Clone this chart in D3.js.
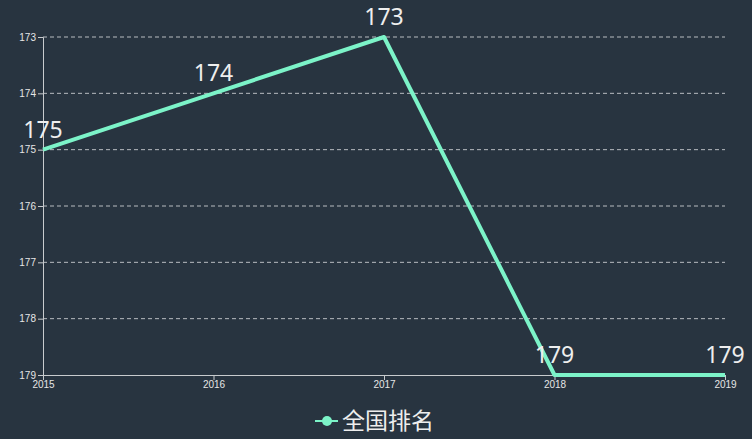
<!DOCTYPE html>
<html><head><meta charset="utf-8">
<script src="https://cdn.jsdelivr.net/npm/d3@7"></script>
<style>
html,body{margin:0;padding:0;background:#283440;}
svg{display:block;font-family:"Noto Sans","Noto Sans CJK SC",sans-serif;}
</style></head>
<body>
<script>
const years = ["2015","2016","2017","2018","2019"];
const ranks = [175, 174, 173, 179, 179];
const yTicks = [173,174,175,176,177,178,179];
const seriesName = "全国排名";

const W = 752, H = 439;
const svg = d3.select("body").append("svg").attr("width", W).attr("height", H);
svg.append("rect").attr("width", W).attr("height", H).attr("fill", "#283440");

const x = d3.scalePoint().domain(years).range([43, 725]);
const y = d3.scaleLinear().domain([173, 179]).range([37, 375]);

// grid
svg.append("g").selectAll("line").data(yTicks.slice(0, -1)).join("line")
  .attr("x1", 43).attr("x2", 725)
  .attr("y1", d => y(d)).attr("y2", d => y(d))
  .attr("stroke", "#b8bcc0").attr("stroke-dasharray", "4,3").attr("stroke-width", 1);

// y axis
const ya = svg.append("g").attr("transform", "translate(43,0)")
  .call(d3.axisLeft(y).tickValues(yTicks).tickSize(5).tickPadding(2).tickFormat(d3.format("d")));
ya.select(".domain").attr("stroke", "#c8cbce");
ya.selectAll(".tick line").attr("stroke", "#c8cbce");
ya.selectAll("text").attr("fill", "#e6e6e6").attr("font-size", 10);

// x axis
const xa = svg.append("g").attr("transform", "translate(0,375)")
  .call(d3.axisBottom(x).tickSize(5).tickPadding(1).tickSizeOuter(0));
xa.select(".domain").attr("stroke", "#c8cbce");
xa.selectAll(".tick line").attr("stroke", "#c8cbce");
xa.selectAll("text").attr("fill", "#e6e6e6").attr("font-size", 10);

const data = years.map((yr, i) => ({yr, v: ranks[i]}));
const lineColor = "#7cf3c8";
svg.append("path").datum(data)
  .attr("fill", "none").attr("stroke", lineColor).attr("stroke-width", 4)
  .attr("stroke-linejoin", "round")
  .attr("d", d3.line().x(d => x(d.yr)).y(d => y(d.v)));

svg.append("g").selectAll("text").data(data).join("text")
  .attr("x", d => x(d.yr)).attr("y", d => y(d.v) - 12)
  .attr("text-anchor", "middle").attr("fill", "#eeeeee").attr("font-size", 23)
  .text(d => d.v);

// legend
const lg = svg.append("g");
lg.append("line").attr("x1", 315).attr("x2", 338).attr("y1", 421).attr("y2", 421)
  .attr("stroke", lineColor).attr("stroke-width", 2);
lg.append("circle").attr("cx", 327).attr("cy", 421).attr("r", 5).attr("fill", lineColor);
lg.append("text").attr("x", 342).attr("y", 429).attr("fill", "#eeeeee")
  .attr("font-size", 23).attr("font-family", "Noto Sans CJK SC").text(seriesName);
</script>
</body></html>
